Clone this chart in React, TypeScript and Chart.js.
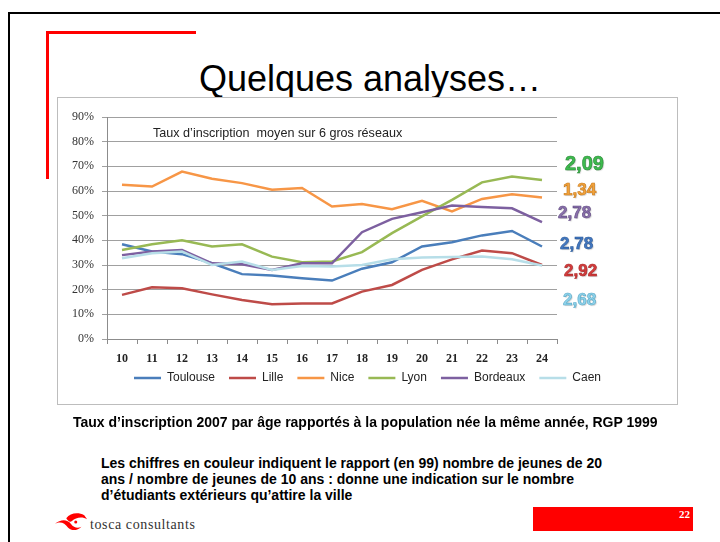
import React, { useEffect, useRef } from "react";
import { Chart, registerables } from "chart.js";

Chart.register(...registerables);

const ages = ["10", "11", "12", "13", "14", "15", "16", "17", "18", "19", "20", "21", "22", "23", "24"];

const toulouse = [38.4, 35.5, 34.4, 30.7, 26.3, 25.7, 24.6, 23.7, 28.5, 31.1, 37.5, 39.2, 42.0, 43.8, 37.5];
const lille = [17.9, 21.0, 20.6, 18.1, 15.8, 14.1, 14.4, 14.4, 19.2, 21.9, 28.0, 32.3, 35.9, 34.8, 30.0];
const nice = [62.5, 61.8, 67.9, 65.0, 63.2, 60.5, 61.2, 53.7, 54.7, 52.6, 56.0, 51.7, 56.8, 58.7, 57.4];
const lyon = [36.1, 38.4, 40.0, 37.5, 38.4, 33.4, 31.1, 31.4, 35.2, 42.9, 49.7, 56.4, 63.5, 65.9, 64.5];
const bordeaux = [34.0, 35.5, 36.1, 30.7, 30.3, 28.0, 30.7, 30.7, 43.3, 48.7, 51.4, 54.1, 53.5, 53.0, 47.4];
const caen = [32.7, 34.8, 35.5, 30.0, 31.4, 28.0, 29.6, 29.4, 30.0, 32.3, 33.0, 33.2, 33.4, 32.3, 29.8];

const seriesNames = ["Toulouse", "Lille", "Nice", "Lyon", "Bordeaux", "Caen"];
const seriesColors = ["#4a7ebb", "#be4b48", "#f79646", "#98b954", "#7d60a0", "#b7dee8"];

const yMin = 0;
const yMax = 90;
const yStep = 10;

const ratioLabels = ["2,09", "1,34", "2,78", "2,78", "2,92", "2,68"];
const ratioColors = ["#3dba4e", "#f2a23a", "#8a70ab", "#4278c2", "#d43c3c", "#8ed3ec"];
const ratioStroke = ["#2a8a36", "#c77a1c", "#5e4880", "#2a5896", "#a82626", "#5aa9c6"];

const chartTitle = "Taux d\u2019inscription  moyen sur 6 gros r\u00e9seaux";
const slideTitle = "Quelques analyses\u2026";
const caption = "Taux d\u2019inscription 2007 par \u00e2ge rapport\u00e9s \u00e0 la population n\u00e9e la m\u00eame ann\u00e9e, RGP 1999";
const noteLines = [
  "Les chiffres en couleur indiquent le rapport (en 99) nombre de jeunes de 20",
  "ans / nombre de jeunes de 10 ans : donne une indication sur le nombre",
  "d\u2019\u00e9tudiants ext\u00e9rieurs qu\u2019attire la ville",
];
const pageNumber = "22";
const brand = "tosca consultants";

// layout (styles only)
const ratioPos = [
  { left: 565, top: 151, size: 20 },
  { left: 563, top: 179, size: 17 },
  { left: 558, top: 202, size: 17 },
  { left: 560, top: 233, size: 17 },
  { left: 564, top: 260, size: 17 },
  { left: 563, top: 289, size: 17 },
];

const legendShift = {
  id: "legendShift",
  afterLayout(chart: any) {
    const l = chart.legend;
    if (l) {
      l.top -= 9;
      l.bottom -= 9;
    }
  },
};

export default function App() {
  const ref = useRef<HTMLCanvasElement>(null);

  useEffect(() => {
    const series = [toulouse, lille, nice, lyon, bordeaux, caen];
    const chart = new Chart(ref.current as HTMLCanvasElement, {
      type: "line",
      data: {
        labels: ages,
        datasets: series.map((d, i) => ({
          label: seriesNames[i],
          data: d,
          borderColor: seriesColors[i],
          backgroundColor: seriesColors[i],
          borderWidth: 2.5,
          pointRadius: 0,
          pointHoverRadius: 0,
          tension: 0,
          fill: false,
          order: series.length - i,
          yAxisID: "y",
        })),
      },
      plugins: [legendShift],
      options: {
        responsive: false,
        animation: false,
        events: [],
        layout: { padding: { top: 20, left: 0, right: 0, bottom: 2 } },
        plugins: {
          legend: {
            position: "bottom",
            labels: {
              usePointStyle: true,
              pointStyle: "line",
              pointStyleWidth: 27,
              padding: 14,
              color: "#222",
              font: { family: "'Liberation Sans', Arial, sans-serif", size: 12 },
              sort: (a: any, b: any) => a.datasetIndex - b.datasetIndex,
            },
          },
          tooltip: { enabled: false },
          title: { display: false },
        },
        scales: {
          x: {
            offset: true,
            grid: { offset: true, drawOnChartArea: false, drawTicks: true, tickLength: 5, color: "#8c8c8c" },
            border: { color: "#8c8c8c" },
            ticks: {
              padding: 8,
              color: "#222",
              autoSkip: false,
              maxRotation: 0,
              font: { family: "'Liberation Serif', 'Times New Roman', serif", size: 12, weight: "bold" },
            },
            afterFit: (s: any) => {
              s.height = 28;
            },
          },
          y: {
            min: yMin,
            max: yMax,
            ticks: {
              stepSize: yStep,
              padding: 8,
              color: "#333",
              font: { family: "'Liberation Serif', 'Times New Roman', serif", size: 12 },
              callback: (v: any) => v + "%",
            },
            grid: { color: "#a0a0a0", tickLength: 5 },
            border: { color: "#8c8c8c" },
            afterFit: (s: any) => {
              s.width = 50;
            },
          },
          yR: {
            position: "right",
            display: true,
            grid: { display: false, drawTicks: false },
            ticks: { display: false },
            border: { display: false },
            afterFit: (s: any) => {
              s.width = 121;
            },
          },
        },
      },
    } as any);
    return () => chart.destroy();
  }, []);

  const sans = "'Liberation Sans', Arial, sans-serif";

  return (
    <div
      style={{
        position: "fixed",
        left: 0,
        top: 0,
        width: 720,
        height: 542,
        background: "#fff",
        overflow: "hidden",
        fontFamily: sans,
      }}
    >
      {/* slide frame */}
      <div style={{ position: "absolute", left: 8, top: 12, width: 760, height: 600, borderTop: "2px solid #000", borderLeft: "2px solid #000" }} />
      {/* red corner */}
      <div style={{ position: "absolute", left: 46, top: 31, width: 150, height: 3, background: "#ff0000" }} />
      <div style={{ position: "absolute", left: 46, top: 31, width: 3, height: 148, background: "#ff0000" }} />

      {/* title */}
      <div
        style={{
          position: "absolute",
          left: 170,
          top: 61,
          width: 400,
          textAlign: "center",
          fontSize: 36,
          lineHeight: "36px",
          color: "#000",
          whiteSpace: "nowrap",
        }}
      >
        {slideTitle}
      </div>

      {/* chart box */}
      <div style={{ position: "absolute", left: 57, top: 97, width: 621, height: 308, background: "#fff" }} />
      <canvas
        ref={ref}
        width={621}
        height={308}
        style={{ position: "absolute", left: 57, top: 97, width: 621, height: 308 }}
      />
      <div style={{ position: "absolute", left: 57, top: 97, width: 621, height: 308, border: "1px solid #bdbdbd", boxSizing: "border-box" }} />

      <div style={{ position: "absolute", left: 153, top: 126, fontSize: 12.6, lineHeight: "14px", color: "#222", whiteSpace: "pre" }}>
        {chartTitle}
      </div>

      {ratioLabels.map((t, i) => (
        <div
          key={i}
          style={{
            position: "absolute",
            left: ratioPos[i].left,
            top: ratioPos[i].top,
            fontSize: ratioPos[i].size,
            lineHeight: ratioPos[i].size + 4 + "px",
            fontWeight: "bold",
            color: ratioColors[i],
            WebkitTextStroke: "0.6px " + ratioStroke[i],
            textShadow: "1px 1px 1px rgba(0,0,0,0.18)",
            whiteSpace: "nowrap",
          }}
        >
          {t}
        </div>
      ))}

      {/* caption */}
      <div style={{ position: "absolute", left: 73, top: 414, fontSize: 14, lineHeight: "17px", fontWeight: "bold", color: "#000", whiteSpace: "nowrap" }}>
        {caption}
      </div>

      <div style={{ position: "absolute", left: 101, top: 455, fontSize: 14, lineHeight: "16px", fontWeight: "bold", color: "#000", whiteSpace: "nowrap" }}>
        {noteLines.map((l, i) => (
          <div key={i}>{l}</div>
        ))}
      </div>

      {/* logo */}
      <svg style={{ position: "absolute", left: 53, top: 510 }} width={36} height={24} viewBox="0 0 38 24">
        <path d="M2 14 C8 11 12 13 16 18 C20 22 26 21 30 17 C26 19 22 18 19 14 C15 9 8 9 2 14 Z" fill="#ff0000" />
        <path d="M14 8 C18 3 26 1 33 5 L36 9 C31 6 24 7 20 11 C18 13 16 11 14 8 Z" fill="#ff0000" />
        <circle cx="24" cy="12" r="1.6" fill="#ff0000" />
      </svg>
      <div
        style={{
          position: "absolute",
          left: 90,
          top: 517,
          fontFamily: "'Liberation Serif', 'Times New Roman', serif",
          fontSize: 14,
          lineHeight: "16px",
          letterSpacing: 0.6,
          color: "#333",
          whiteSpace: "nowrap",
        }}
      >
        {brand}
      </div>

      {/* page number box */}
      <div style={{ position: "absolute", left: 533, top: 507, width: 160, height: 24, background: "#ff0000" }} />
      <div
        style={{
          position: "absolute",
          left: 533,
          top: 508,
          width: 157,
          textAlign: "right",
          fontFamily: "'Liberation Serif', 'Times New Roman', serif",
          fontWeight: "bold",
          fontSize: 11,
          lineHeight: "13px",
          color: "#fff",
        }}
      >
        {pageNumber}
      </div>
    </div>
  );
}
